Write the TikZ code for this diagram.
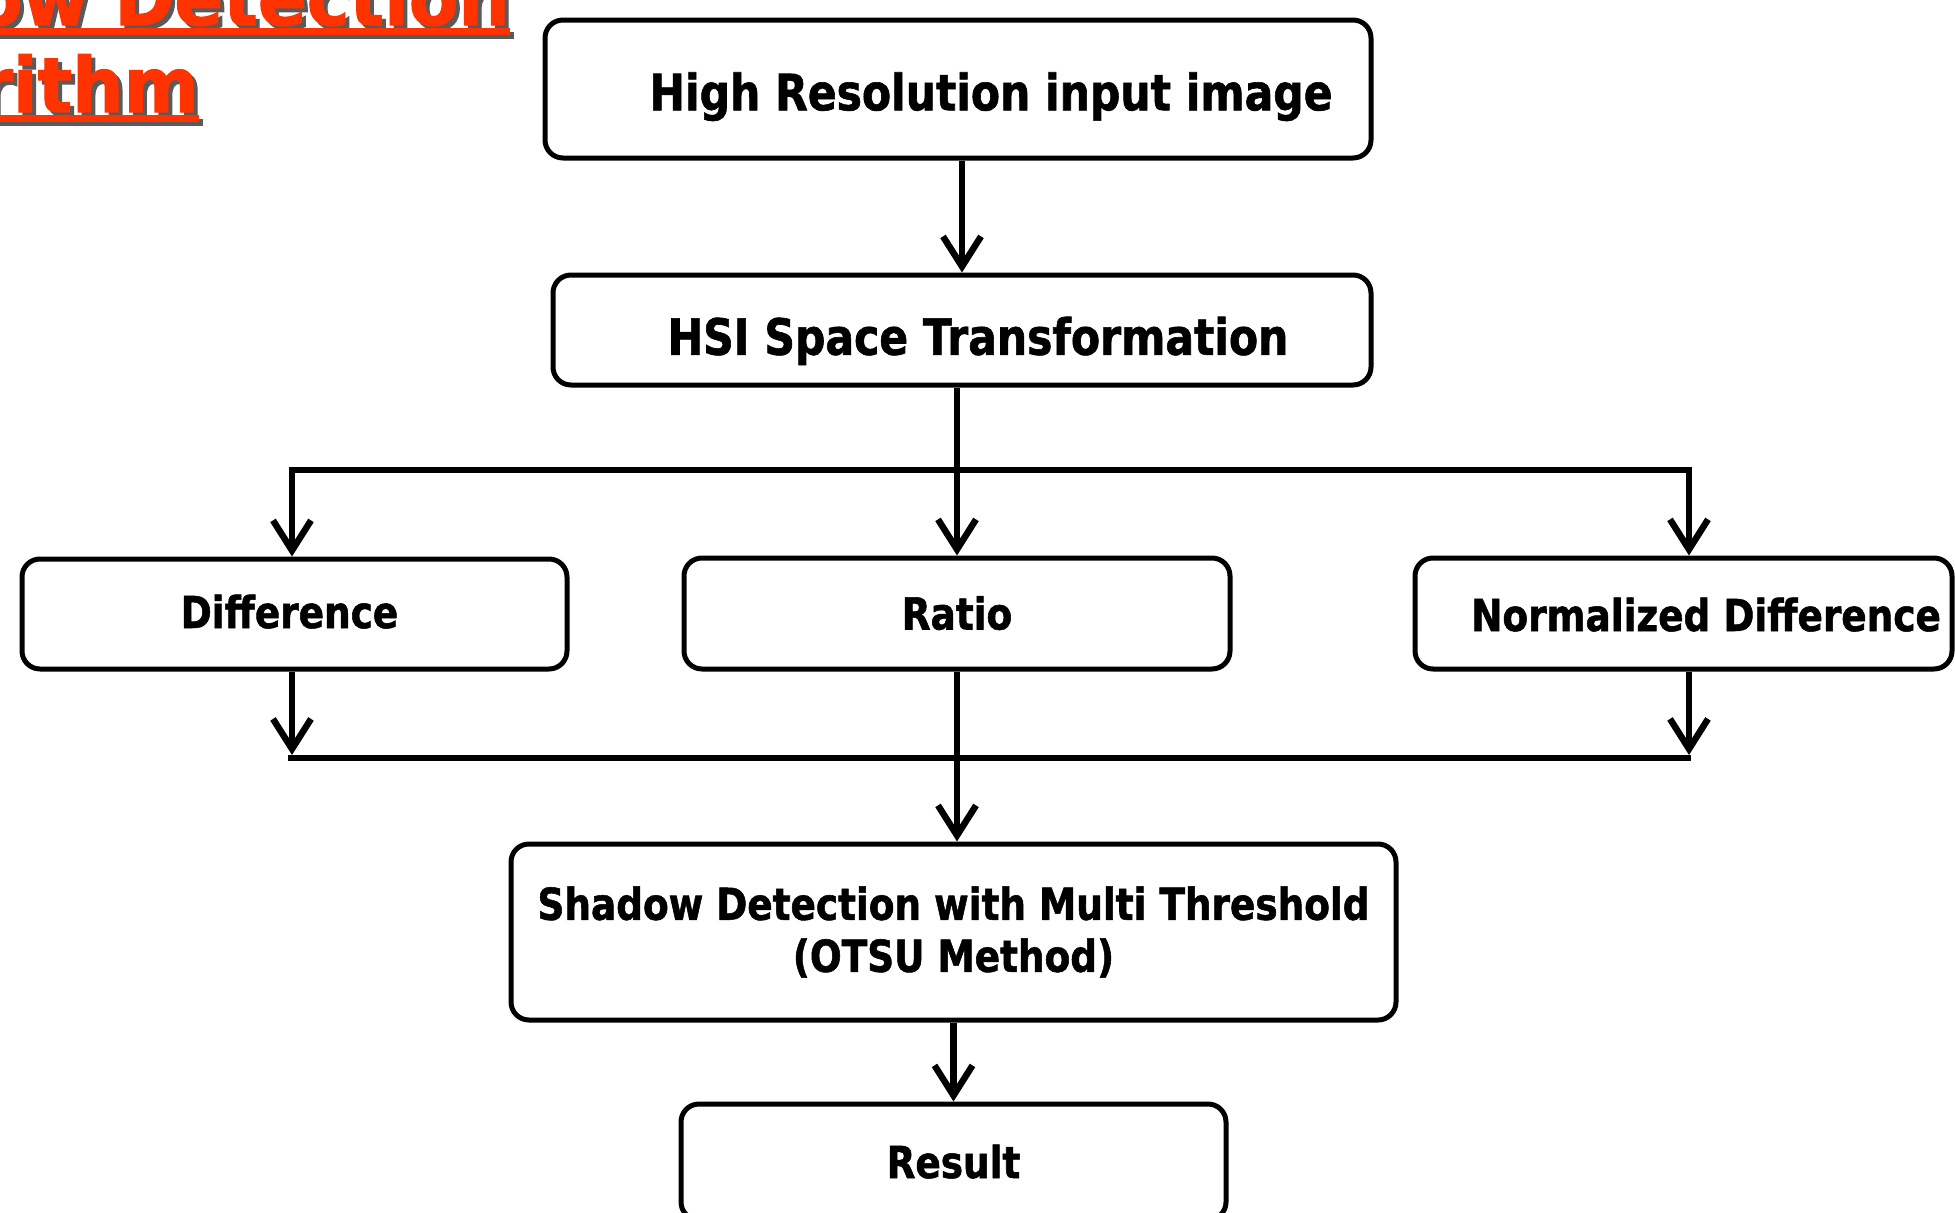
\documentclass[tikz,border=0pt]{standalone}
\usepackage{fontspec}
\setmainfont{DejaVu Sans}[FakeStretch=0.85, BoldFeatures={FakeBold=1.2}]
\newfontfamily\titlefont{DejaVu Sans}[FakeStretch=0.95, BoldFeatures={FakeBold=1.5}]
\usetikzlibrary{arrows.meta}
\definecolor{ttl}{HTML}{FF3300}
\definecolor{shd}{HTML}{5A5A5A}
\newcommand{\shiftxt}[3]{\hspace*{#1}\raisebox{#2}{#3}\hspace*{-#1}}
\begin{document}
\begin{tikzpicture}[x=1pt,y=-1pt,
  box/.style={draw, line width=5pt, rounded corners=18pt, inner sep=0pt, fill=white},
  big/.style={font=\fontsize{50}{56}\selectfont\bfseries, text height=36.5pt, text depth=0pt},
  med/.style={font=\fontsize{44}{52}\selectfont\bfseries, text height=32pt, text depth=0pt},
  conn/.style={line width=6.5pt},
  tip/.tip={Straight Barb[length=30pt,width=38pt]},
  arr/.style={conn, -tip},
  ttlfont/.style={font=\titlefont\fontsize{76}{88}\selectfont\bfseries, inner sep=0pt, anchor=base east}]
\useasboundingbox (0,0) rectangle (1955,1213);
% title (cut off by the page edge)
\node[ttlfont, text=shd] (t1s) at (514,29) {Shadow Detection};
\draw[shd, line width=7pt] ([yshift=-6.5pt]t1s.base west) -- ([yshift=-6.5pt]t1s.base east);
\node[ttlfont, text=shd] (t2s) at (203,116) {Algorithm};
\draw[shd, line width=7pt] ([yshift=-6.5pt]t2s.base west) -- ([yshift=-6.5pt]t2s.base east);
\node[ttlfont, text=ttl] (t1) at (510,25) {Shadow Detection};
\draw[ttl, line width=7pt] ([yshift=-6.5pt]t1.base west) -- ([yshift=-6.5pt]t1.base east);
\node[ttlfont, text=ttl] (t2) at (199,112) {Algorithm};
\draw[ttl, line width=7pt] ([yshift=-6.5pt]t2.base west) -- ([yshift=-6.5pt]t2.base east);
% boxes
\node[box,big,minimum width=826pt,minimum height=138pt] (b1) at (958,89) {\shiftxt{33pt}{-3pt}{High Resolution input image}};
\node[box,big,minimum width=818pt,minimum height=110pt] (b2) at (962,330) {\shiftxt{16pt}{-6.5pt}{HSI Space Transformation}};
\node[box,med,minimum width=545pt,minimum height=110pt] (bd) at (294.5,614) {\shiftxt{-5pt}{2pt}{Difference}};
\node[box,med,minimum width=546pt,minimum height=111pt] (br) at (957,613.5) {Ratio};
\node[box,med,minimum width=537pt,minimum height=111pt] (bn) at (1683.5,613.5) {\shiftxt{22.5pt}{-1.5pt}{Normalized Difference}};
\node[box,font=\fontsize{44}{52}\selectfont\bfseries,align=center,minimum width=885pt,minimum height=176pt] (bs) at (953.5,932) {Shadow Detection with Multi Threshold\\(OTSU Method)};
\node[box,med,minimum width=545pt,minimum height=116pt] (bres) at (953.5,1162) {Result};
% connectors
\coordinate (busL) at (292,470);
\coordinate (busR) at (1689,470);
\coordinate (tipL) at (292,755);
\coordinate (tipR) at (1689,755);
\coordinate (bus2L) at (288,758);
\coordinate (bus2R) at (1691,758);
\draw[arr] (b2.north |- b1.south) -- (b2.north);
\draw[conn, tip-tip] (busL |- bd.north) -- (busL) -- (busR) -- (busR |- bn.north);
\draw[arr] (br.north |- b2.south) -- (br.north);
\draw[conn] (bus2L) -- (bus2R);
\draw[arr] (tipL |- bd.south) -- (tipL);
\draw[arr] (tipR |- bn.south) -- (tipR);
\draw[arr] (br.south) -- (br.south |- bs.north);
\draw[arr] (bs.south) -- (bs.south |- bres.north);
\end{tikzpicture}
\end{document}
